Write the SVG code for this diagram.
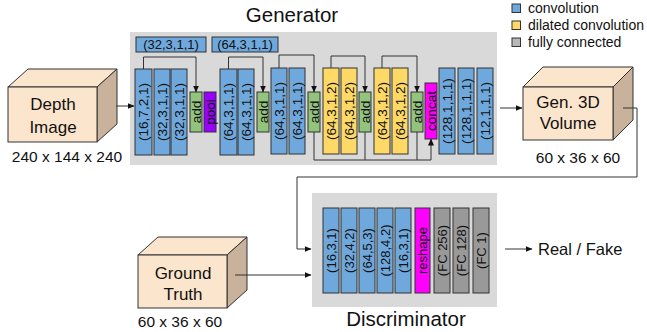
<svg xmlns="http://www.w3.org/2000/svg" width="647" height="332" viewBox="0 0 647 332">
<defs>
<marker id="ah" markerWidth="7" markerHeight="6" refX="6.5" refY="3" orient="auto" markerUnits="userSpaceOnUse">
<path d="M0,0 L7,3 L0,6 Z" fill="#111"/>
</marker>
<style>
text{font-family:"Liberation Sans",Arial,sans-serif;fill:#111}
.bg{fill:#d9d9d9}
.L{stroke:#333;stroke-width:1}
.conv{fill:#6fa8dc}
.dil{fill:#ffd966}
.fc{fill:#999999}
.add{fill:#93c47d}
.pool{fill:#9900ff}
.mag{fill:#ff00ff}
.lt{font-size:13px;text-anchor:middle;dominant-baseline:central}
#gen-layers .lt{font-size:13.6px}
.cf{fill:#fce5cd;stroke:#333;stroke-width:1}
.cs{fill:#c9b29b;stroke:#333;stroke-width:1}
.ct{font-size:17px;text-anchor:middle}
.dim{font-size:15.5px;text-anchor:middle}
.title{font-size:20.5px;text-anchor:middle}
.con{fill:none;stroke:#333;stroke-width:1}
.leg{font-size:14px}
</style>
</defs>

<!-- legend -->
<g id="legend">
<rect x="512" y="4" width="8.5" height="8.5" class="conv L"/>
<text x="528" y="13" class="leg">convolution</text>
<rect x="512" y="21" width="8.5" height="8.5" class="dil L"/>
<text x="528" y="30" class="leg">dilated convolution</text>
<rect x="512" y="38" width="8.5" height="8.5" fill="#b7b7b7" class="L"/>
<text x="528" y="47" class="leg">fully connected</text>
</g>

<!-- generator -->
<g id="generator">
<rect x="130" y="32" width="367" height="133" class="bg"/>
<text x="292" y="22" class="title">Generator</text>
<rect x="136" y="37" width="70" height="15" class="conv L"/>
<text x="171" y="44.5" class="lt">(32,3,1,1)</text>
<rect x="212" y="37" width="66" height="15" class="conv L"/>
<text x="245" y="44.5" class="lt">(64,3,1,1)</text>
</g>

<g id="gen-layers">
<g id="g1"><rect x="135" y="69" width="17" height="86" class="conv L"/><text class="lt" transform="translate(143.5,112) rotate(-90)">(16,7,2,1)</text></g>
<g id="g2"><rect x="154" y="69" width="16" height="86" class="conv L"/><text class="lt" transform="translate(162,112) rotate(-90)">(32,3,1,1)</text></g>
<g id="g3"><rect x="171" y="69" width="16" height="86" class="conv L"/><text class="lt" transform="translate(179,112) rotate(-90)">(32,3,1,1)</text></g>
<g id="g4"><rect x="190" y="92" width="12" height="40" class="add L"/><text class="lt" transform="translate(196,112) rotate(-90)">add</text></g>
<g id="g5"><rect x="204" y="92" width="12" height="40" class="pool L"/><text class="lt" transform="translate(210,112) rotate(-90)">pool</text></g>
<g id="g6"><rect x="220" y="69" width="17" height="86" class="conv L"/><text class="lt" transform="translate(228.5,112) rotate(-90)">(64,3,1,1)</text></g>
<g id="g7"><rect x="238" y="69" width="16" height="86" class="conv L"/><text class="lt" transform="translate(246,112) rotate(-90)">(64,3,1,1)</text></g>
<g id="g8"><rect x="257" y="92" width="12" height="40" class="add L"/><text class="lt" transform="translate(263,112) rotate(-90)">add</text></g>
<g id="g9"><rect x="271" y="68" width="16" height="86" class="conv L"/><text class="lt" transform="translate(279,111) rotate(-90)">(64,3,1,1)</text></g>
<g id="g10"><rect x="289" y="68" width="16" height="86" class="conv L"/><text class="lt" transform="translate(297,111) rotate(-90)">(64,3,1,1)</text></g>
<g id="g11"><rect x="308" y="92" width="12" height="40" class="add L"/><text class="lt" transform="translate(314,112) rotate(-90)">add</text></g>
<g id="g12"><rect x="323" y="68" width="16" height="86" class="dil L"/><text class="lt" transform="translate(331,111) rotate(-90)">(64,3,1,2)</text></g>
<g id="g13"><rect x="341" y="68" width="16" height="86" class="dil L"/><text class="lt" transform="translate(349,111) rotate(-90)">(64,3,1,2)</text></g>
<g id="g14"><rect x="359" y="92" width="12" height="40" class="add L"/><text class="lt" transform="translate(365,112) rotate(-90)">add</text></g>
<g id="g15"><rect x="374" y="68" width="16" height="86" class="dil L"/><text class="lt" transform="translate(382,111) rotate(-90)">(64,3,1,2)</text></g>
<g id="g16"><rect x="392" y="68" width="16" height="86" class="dil L"/><text class="lt" transform="translate(400,111) rotate(-90)">(64,3,1,2)</text></g>
<g id="g17"><rect x="411" y="92" width="12" height="40" class="add L"/><text class="lt" transform="translate(417,112) rotate(-90)">add</text></g>
<g id="g18"><rect x="425" y="83" width="12" height="56" class="mag L"/><text class="lt" transform="translate(431,111) rotate(-90)">concat</text></g>
<g id="g19"><rect x="439" y="68" width="16" height="86" class="conv L"/><text class="lt" transform="translate(447,111) rotate(-90)">(128,1,1,1)</text></g>
<g id="g20"><rect x="458" y="68" width="16" height="86" class="conv L"/><text class="lt" transform="translate(466,111) rotate(-90)">(128,1,1,1)</text></g>
<g id="g21"><rect x="477" y="68" width="16" height="86" class="conv L"/><text class="lt" transform="translate(485,111) rotate(-90)">(12,1,1,1)</text></g>
</g>

<!-- discriminator -->
<g id="discriminator">
<rect x="312" y="193" width="185" height="114" class="bg"/>
<text x="406" y="326" class="title">Discriminator</text>
</g>
<g id="disc-layers">
<g id="d1"><rect x="323" y="208" width="16" height="85" class="conv L"/><text class="lt" transform="translate(331,250.5) rotate(-90)">(16,3,1)</text></g>
<g id="d2"><rect x="341" y="208" width="16" height="85" class="conv L"/><text class="lt" transform="translate(349,250.5) rotate(-90)">(32,4,2)</text></g>
<g id="d3"><rect x="359" y="208" width="16" height="85" class="conv L"/><text class="lt" transform="translate(367,250.5) rotate(-90)">(64,5,3)</text></g>
<g id="d4"><rect x="377" y="208" width="16" height="85" class="conv L"/><text class="lt" transform="translate(385,250.5) rotate(-90)">(128,4,2)</text></g>
<g id="d5"><rect x="395" y="208" width="16" height="85" class="conv L"/><text class="lt" transform="translate(403,250.5) rotate(-90)">(16,3,1)</text></g>
<g id="d6"><rect x="415" y="208" width="15" height="85" class="mag L"/><text class="lt" transform="translate(422.5,250.5) rotate(-90)">reshape</text></g>
<g id="d7"><rect x="434" y="208" width="16" height="85" class="fc L"/><text class="lt" transform="translate(442,250.5) rotate(-90)">(FC 256)</text></g>
<g id="d8"><rect x="453" y="208" width="16" height="85" class="fc L"/><text class="lt" transform="translate(461,250.5) rotate(-90)">(FC 128)</text></g>
<g id="d9"><rect x="473" y="208" width="16" height="85" class="fc L"/><text class="lt" transform="translate(481,250.5) rotate(-90)">(FC 1)</text></g>
</g>

<!-- cubes -->
<g id="depth-image">
<polygon points="8,87 28,69 117,69 97,87" class="cf"/>
<polygon points="97,87 117,69 117,124 97,142" class="cs"/>
<rect x="8" y="87" width="89" height="55" class="cf"/>
<text x="53" y="110" class="ct">Depth</text>
<text x="53" y="133" class="ct">Image</text>
<text x="67" y="162" class="dim">240 x 144 x 240</text>
</g>

<g id="gen-volume">
<polygon points="523,87 543,67 633,67 613,87" class="cf"/>
<polygon points="613,87 633,67 633,120 613,140" class="cs"/>
<rect x="523" y="87" width="90" height="53" class="cf"/>
<text x="568" y="108" class="ct">Gen. 3D</text>
<text x="568" y="129" class="ct">Volume</text>
<text x="578" y="163" class="dim">60 x 36 x 60</text>
</g>

<g id="ground-truth">
<polygon points="138,255 158,237 247,237 227,255" class="cf"/>
<polygon points="227,255 247,237 247,290 227,308" class="cs"/>
<rect x="138" y="255" width="89" height="53" class="cf"/>
<text x="183" y="279" class="ct">Ground</text>
<text x="183" y="300" class="ct">Truth</text>
<text x="180" y="327" class="dim">60 x 36 x 60</text>
</g>

<g id="output">
<text x="538" y="255" font-size="16.5px">Real / Fake</text>
</g>

<!-- connectors -->
<g id="connectors">
<path d="M116,106 H134" class="con" marker-end="url(#ah)"/>
<path d="M143.5,69 V57 H196 V92" class="con" marker-end="url(#ah)"/>
<path d="M228.5,69 V57 H263 V92" class="con" marker-end="url(#ah)"/>
<path d="M279,68 V55 H314 V92" class="con" marker-end="url(#ah)"/>
<path d="M331,68 V56 H365 V92" class="con" marker-end="url(#ah)"/>
<path d="M382,68 V56 H417 V92" class="con" marker-end="url(#ah)"/>
<path d="M314,132 V160 H431 V139" class="con" marker-end="url(#ah)"/>
<path d="M365,132 V160" class="con"/>
<path d="M417,132 V160" class="con"/>
<path d="M500,108 H522" class="con" marker-end="url(#ah)"/>
<path d="M623,108 H637 V177 H297 V249 H311" class="con" marker-end="url(#ah)"/>
<path d="M235,275 H311" class="con" marker-end="url(#ah)"/>
<path d="M505,249 H532" class="con" marker-end="url(#ah)"/>
</g>
</svg>
